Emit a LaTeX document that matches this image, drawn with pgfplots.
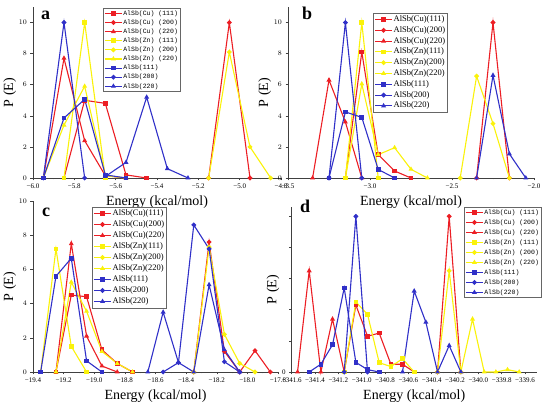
\documentclass[border=0pt]{standalone}
\usepackage{fontspec}
\setmainfont{Liberation Serif}
\newfontfamily\legmono{Liberation Mono}
\usepackage{pgfplots}
\pgfplotsset{compat=1.18}
\definecolor{cR}{RGB}{236,30,36}
\definecolor{cY}{RGB}{250,242,10}
\definecolor{cB}{RGB}{48,48,200}
\pgfplotsset{
  panel/.style={
    scale only axis, anchor=south west,
    axis lines=left, axis line style={-, black!75, line width=0.6pt},
    tick align=outside, tick pos=left, tick style={black!75, line width=0.5pt},
    major tick length=2.5pt, minor tick length=1.5pt,
    minor x tick num=1,
    ymin=0, ytick={0,2,4,6,8,10},
    tick label style={font=\fontsize{7}{8}\selectfont},
    label style={font=\fontsize{14}{16}\selectfont},
    ylabel style={xshift=0pt, yshift=-4pt},
    xlabel={Energy (kcal/mol)}, ylabel={P (E)},
    clip=false, legend cell align=left,
    every axis plot/.append style={line width=1.1pt, mark size=1.8pt, mark options={solid}},
  },
  legA/.style={legend style={font=\legmono\fontsize{6.5}{7}\selectfont,
    draw=black!60, line width=0.4pt, inner sep=1.2pt, row sep=1pt,
    nodes={inner sep=0.8pt, text height=5pt, text depth=1.5pt}}},
  legB/.style={legend style={font=\fontsize{8.5}{9}\selectfont,
    draw=black!60, line width=0.4pt, inner sep=1.2pt, row sep=#1,
    nodes={inner sep=1pt, text height=6.2pt, text depth=2pt}}},
  cuA/.style={color=cR, mark=square*}, cuB/.style={color=cR, mark=*}, cuC/.style={color=cR, mark=triangle*},
  znA/.style={color=cY, mark=square*}, znB/.style={color=cY, mark=*}, znC/.style={color=cY, mark=triangle*},
  alA/.style={color=cB, mark=square*}, alB/.style={color=cB, mark=*}, alC/.style={color=cB, mark=triangle*},
}
\begin{document}
\begin{tikzpicture}
\path[use as bounding box] (0,0) rectangle (550pt,407pt);
% ---------------- a ----------------
\begin{axis}[panel, at={(33pt,229pt)}, width=248pt, height=171pt,
  xmin=-6.0, xmax=-4.8, ymax=11,
  xtick={-6.0,-5.8,-5.6,-5.4,-5.2,-5.0,-4.8},
  xticklabels={−6.0,−5.8,−5.6,−5.4,−5.2,−5.0,−4.8},
  legA, legend style={at={(rel axis cs:0.282,0.994)}, anchor=north west},
  legend entries={AlSb(Cu) (111),AlSb(Cu) (200),AlSb(Cu) (220),AlSb(Zn) (111),AlSb(Zn) (200),AlSb(Zn) (220),AlSb(111),AlSb(200),AlSb(220)}]
\addplot[cuA] coordinates {(-5.85,0) (-5.75,5.0) (-5.65,4.8) (-5.55,0.2) (-5.45,0)};
\addplot[cuB] coordinates {(-5.15,0) (-5.05,10) (-4.95,0)};
\addplot[cuC] coordinates {(-5.95,0) (-5.85,7.7) (-5.75,2.4) (-5.65,0.15) (-5.55,0)};
\addplot[znA] coordinates {(-5.85,0) (-5.75,10) (-5.65,0)};
\addplot[znB] coordinates {(-5.15,0) (-5.05,8.1) (-4.95,2.0) (-4.85,0)};
\addplot[znC] coordinates {(-5.95,0) (-5.85,3.4) (-5.75,5.9) (-5.65,0.15) (-5.55,0)};
\addplot[alA] coordinates {(-5.95,0) (-5.85,3.86) (-5.75,5.06) (-5.65,0.2) (-5.55,0)};
\addplot[alB] coordinates {(-5.95,0) (-5.85,10) (-5.75,0)};
\addplot[alC] coordinates {(-5.65,0.1) (-5.55,1.0) (-5.45,5.2) (-5.35,0.6) (-5.25,0)};
\end{axis}
% ---------------- b ----------------
\begin{axis}[panel, at={(288pt,229pt)}, width=246pt, height=171pt,
  xmin=-3.5, xmax=-2.0, ymax=11,
  xtick={-3.5,-3.0,-2.5,-2.0},
  xticklabels={−3.5,−3.0,−2.5,−2.0},
  legB=0.6pt, legend style={at={(rel axis cs:0.346,0.965)}, anchor=north west},
  legend entries={AlSb(Cu)(111),AlSb(Cu)(200),AlSb(Cu)(220),AlSb(Zn)(111),AlSb(Zn)(200),AlSb(Zn)(220),AlSb(111),AlSb(200),AlSb(220)}]
\addplot[cuA] coordinates {(-3.15,0) (-3.05,8.1) (-2.95,1.5) (-2.85,0.45) (-2.75,0)};
\addplot[cuB] coordinates {(-2.35,0) (-2.25,10) (-2.15,0)};
\addplot[cuC] coordinates {(-3.35,0) (-3.25,6.3) (-3.15,3.6) (-3.05,0)};
\addplot[znA] coordinates {(-3.15,0) (-3.05,10) (-2.95,0)};
\addplot[znB] coordinates {(-2.45,0) (-2.35,6.55) (-2.25,3.5) (-2.15,0)};
\addplot[znC] coordinates {(-3.15,0) (-3.05,6.05) (-2.95,1.5) (-2.85,1.95) (-2.75,0.56) (-2.65,0)};
\addplot[alA] coordinates {(-3.25,0) (-3.15,4.25) (-3.05,3.9) (-2.95,0.55) (-2.85,0)};
\addplot[alB] coordinates {(-3.25,0) (-3.15,10) (-3.05,0)};
\addplot[alC] coordinates {(-2.35,0) (-2.25,6.6) (-2.15,1.55) (-2.05,0)};
\end{axis}
% ---------------- c ----------------
\begin{axis}[panel, at={(33pt,35pt)}, width=245pt, height=171pt,
  xmin=-19.4, xmax=-17.8, ymax=10,
  xtick={-19.4,-19.2,-19.0,-18.8,-18.6,-18.4,-18.2,-18.0,-17.8},
  xticklabels={−19.4,−19.2,−19.0,−18.8,−18.6,−18.4,−18.2,−18.0,−17.8},
  legB=0.8pt, legend style={at={(rel axis cs:0.241,0.965)}, anchor=north west},
  legend entries={AlSb(Cu)(111),AlSb(Cu)(200),AlSb(Cu)(220),AlSb(Zn)(111),AlSb(Zn)(200),AlSb(Zn)(220),AlSb(111),AlSb(200),AlSb(220)}]
\addplot[cuA] coordinates {(-19.25,0) (-19.15,4.5) (-19.05,4.4) (-18.95,1.3) (-18.85,0.5) (-18.75,0)};
\addplot[cuB] coordinates {(-18.35,0) (-18.25,7.6) (-18.15,1.2) (-18.05,0) (-17.95,1.25) (-17.85,0)};
\addplot[cuC] coordinates {(-19.25,0) (-19.15,7.5) (-19.05,2.1) (-18.95,0.35) (-18.85,0)};
\addplot[znA] coordinates {(-19.35,0) (-19.25,7.2) (-19.15,1.5) (-19.05,0)};
\addplot[znB] coordinates {(-18.35,0) (-18.25,7.3) (-18.15,2.2) (-18.05,0.5) (-17.95,0)};
\addplot[znC] coordinates {(-19.25,0) (-19.15,5.25) (-19.05,3.55) (-18.95,1.2) (-18.85,0.5) (-18.75,0)};
\addplot[alA] coordinates {(-19.35,0) (-19.25,5.6) (-19.15,6.65) (-19.05,0.65) (-18.95,0)};
\addplot[alB] coordinates {(-18.55,0) (-18.45,0.55) (-18.35,8.6) (-18.25,7.2) (-18.15,0.6) (-18.05,0)};
\addplot[alC] coordinates {(-18.65,0) (-18.55,3.5) (-18.45,0.55) (-18.35,0) (-18.25,5.1) (-18.15,1.3) (-18.05,0)};
\end{axis}
% ---------------- d ----------------
\begin{axis}[panel, at={(291.7pt,35pt)}, width=245pt, height=165pt,
  xmin=-341.6, xmax=-339.5, ymax=10.6,
  yticklabels={0,{},{},{},{},{}},
  xtick={-341.6,-341.4,-341.2,-341.0,-340.8,-340.6,-340.4,-340.2,-340.0,-339.8,-339.6},
  xticklabels={−341.6,−341.4,−341.2,−341.0,−340.8,−340.6,−340.4,−340.2,−340.0,−339.8,−339.6},
  legA, legend style={at={(rel axis cs:0.703,1.0)}, anchor=north west, row sep=1.9pt},
  legend entries={AlSb(Cu) (111),AlSb(Cu) (200),AlSb(Cu) (220),AlSb(Zn) (111),AlSb(Zn) (200),AlSb(Zn) (220),AlSb(111),AlSb(200),AlSb(220)}]
\addplot[cuA] coordinates {(-341.15,0) (-341.05,4.3) (-340.95,2.3) (-340.85,2.5) (-340.75,0.5) (-340.65,0.5) (-340.55,0)};
\addplot[cuB] coordinates {(-340.35,0) (-340.25,10) (-340.15,0)};
\addplot[cuC] coordinates {(-341.55,0) (-341.45,6.5) (-341.35,0) (-341.25,3.4) (-341.15,0)};
\addplot[znA] coordinates {(-341.15,0) (-341.05,4.5) (-340.95,3.7) (-340.85,0.6) (-340.75,0.35) (-340.65,0.85) (-340.55,0)};
\addplot[znB] coordinates {(-340.35,0) (-340.25,6.5) (-340.15,0)};
\addplot[znC] coordinates {(-340.15,0) (-340.05,3.4) (-339.95,0) (-339.85,0) (-339.75,0.15) (-339.65,0)};
\addplot[alA] coordinates {(-341.45,0) (-341.35,0.5) (-341.25,1.75) (-341.15,5.4) (-341.05,0.62) (-340.95,0.15) (-340.85,0)};
\addplot[alB] coordinates {(-341.15,0) (-341.05,10) (-340.95,0)};
\addplot[alC] coordinates {(-340.65,0) (-340.55,5.2) (-340.45,3.2) (-340.35,0) (-340.25,1.7) (-340.15,0)};
\end{axis}
% panel letters
\node[anchor=base west, font=\bfseries\fontsize{18}{18}\selectfont, inner sep=0] at (41pt,387pt) {a};
\node[anchor=base west, font=\bfseries\fontsize{18}{18}\selectfont, inner sep=0] at (302pt,387pt) {b};
\node[anchor=base west, font=\bfseries\fontsize{18}{18}\selectfont, inner sep=0] at (42pt,190pt) {c};
\node[anchor=base west, font=\bfseries\fontsize{18}{18}\selectfont, inner sep=0] at (300pt,194pt) {d};
\end{tikzpicture}
\end{document}
